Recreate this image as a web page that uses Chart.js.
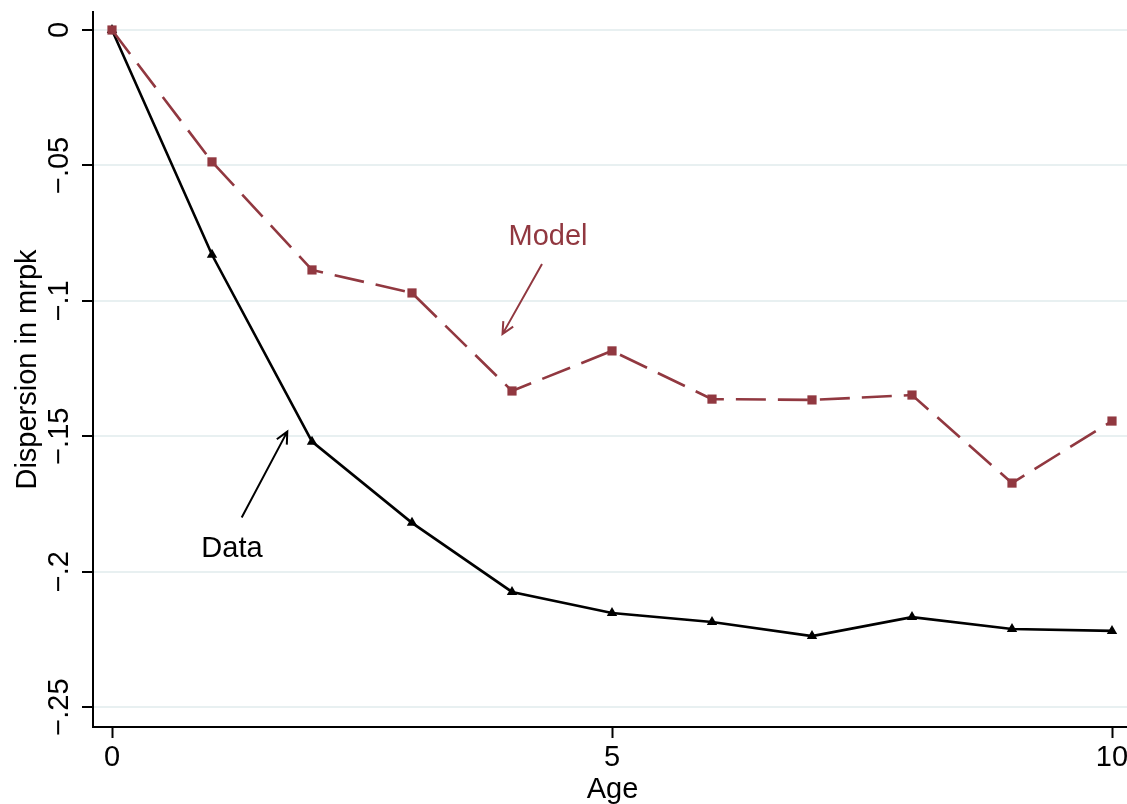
<!DOCTYPE html>
<html>
<head>
<meta charset="utf-8">
<title>Dispersion in mrpk by age</title>
<script src="https://cdn.jsdelivr.net/npm/chart.js@4.4.1/dist/chart.umd.min.js"></script>
<style>
  html, body { margin: 0; padding: 0; background: #fff; overflow: hidden; }
  #wrap { width: 1140px; height: 804px; }
</style>
</head>
<body>
<div id="wrap"><canvas id="dispersionChart" width="1140" height="804"></canvas></div>
<script>
// Dispersion in mrpk relative to age 0
const ages = [0, 1, 2, 3, 4, 5, 6, 7, 8, 9, 10];
const dataSeries = [0, -0.083, -0.152, -0.182, -0.2075, -0.2153, -0.2186, -0.2238, -0.2168, -0.2212, -0.2219];
const modelSeries = [0, -0.0487, -0.0886, -0.0971, -0.1333, -0.1185, -0.1363, -0.1366, -0.1348, -0.1673, -0.1444];

const xTicks = [0, 5, 10];
const yTicks = [0, -0.05, -0.1, -0.15, -0.2, -0.25];
const yTickLabels = ["0", "\u2212.05", "\u2212.1", "\u2212.15", "\u2212.2", "\u2212.25"];

// text labels with arrows, in data units: [textX, textY, tailX, tailY, headX, headY]
const modelNote = [4.36, -0.0794, 4.30, -0.0864, 3.905, -0.1123];
const dataNote = [1.20, -0.1946, 1.297, -0.180, 1.753, -0.1483];

const BLACK = "#000000";
const MAROON = "#913840";
const GRID = "#e8f0f1";
const FONT = '29px "Liberation Sans", Arial, Helvetica, sans-serif';

function drawArrow(ctx, x1, y1, x2, y2, color) {
  const ang = Math.atan2(y2 - y1, x2 - x1);
  const len = 13;
  ctx.save();
  ctx.strokeStyle = color;
  ctx.lineWidth = 2;
  ctx.beginPath();
  ctx.moveTo(x1, y1);
  ctx.lineTo(x2, y2);
  ctx.moveTo(x2 - len * Math.cos(ang - 0.45), y2 - len * Math.sin(ang - 0.45));
  ctx.lineTo(x2, y2);
  ctx.lineTo(x2 - len * Math.cos(ang + 0.45), y2 - len * Math.sin(ang + 0.45));
  ctx.stroke();
  ctx.restore();
}

// tick labels, axis titles and the two notes
const textPlugin = {
  id: "stataText",
  afterDraw(chart) {
    const ctx = chart.ctx;
    const xs = chart.scales.x;
    const ys = chart.scales.y;
    const area = chart.chartArea;
    ctx.save();
    ctx.font = FONT;
    ctx.fillStyle = BLACK;

    // x tick labels
    ctx.textAlign = "center";
    ctx.textBaseline = "alphabetic";
    xTicks.forEach(v => ctx.fillText(String(v), xs.getPixelForValue(v), area.bottom + 39));

    // x title
    ctx.fillText("Age", (area.left + area.right) / 2, area.bottom + 71);

    // y tick labels, rotated
    yTicks.forEach((v, i) => {
      ctx.save();
      ctx.translate(68, ys.getPixelForValue(v));
      ctx.rotate(-Math.PI / 2);
      ctx.fillText(yTickLabels[i], 0, 0);
      ctx.restore();
    });

    // y title
    ctx.save();
    ctx.translate(36, (area.top + area.bottom) / 2);
    ctx.rotate(-Math.PI / 2);
    ctx.fillText("Dispersion in mrpk", 0, 0);
    ctx.restore();

    // notes
    [[modelNote, "Model", MAROON], [dataNote, "Data", BLACK]].forEach(([n, label, color]) => {
      ctx.fillStyle = color;
      ctx.fillText(label, xs.getPixelForValue(n[0]), ys.getPixelForValue(n[1]));
      drawArrow(ctx,
        xs.getPixelForValue(n[2]), ys.getPixelForValue(n[3]),
        xs.getPixelForValue(n[4]), ys.getPixelForValue(n[5]), color);
    });
    ctx.restore();
  }
};

const ctx = document.getElementById("dispersionChart").getContext("2d");
new Chart(ctx, {
  type: "line",
  data: {
    datasets: [
      {
        label: "Model",
        data: ages.map((a, i) => ({ x: a, y: modelSeries[i] })),
        borderColor: MAROON,
        backgroundColor: MAROON,
        borderWidth: 2.6,
        borderDash: [30, 12],
        pointStyle: "rect",
        pointRadius: 6.5,
        pointBorderWidth: 0,
        tension: 0,
        order: 0
      },
      {
        label: "Data",
        data: ages.map((a, i) => ({ x: a, y: dataSeries[i] })),
        borderColor: BLACK,
        backgroundColor: BLACK,
        borderWidth: 2.6,
        pointStyle: "triangle",
        pointRadius: 6,
        pointBorderWidth: 0,
        tension: 0,
        order: 1
      }
    ]
  },
  options: {
    responsive: false,
    animation: false,
    devicePixelRatio: 1,
    layout: { padding: { top: 12, right: 8, left: 0, bottom: 0 } },
    plugins: {
      legend: { display: false },
      tooltip: { enabled: false }
    },
    scales: {
      x: {
        type: "linear",
        min: -0.19,
        max: 10.2,
        afterBuildTicks: s => { s.ticks = xTicks.map(v => ({ value: v })); },
        afterFit: s => { s.height = 77; },
        ticks: { display: false },
        grid: {
          drawOnChartArea: false,
          drawTicks: true,
          tickLength: 11,
          tickColor: BLACK,
          tickWidth: 2
        },
        border: { color: BLACK, width: 2 }
      },
      y: {
        type: "linear",
        min: -0.25738,
        max: 0.00665,
        afterBuildTicks: s => { s.ticks = yTicks.map(v => ({ value: v })); },
        afterFit: s => { s.width = 93; },
        ticks: { display: false },
        grid: {
          color: GRID,
          lineWidth: 2,
          drawTicks: true,
          tickLength: 11,
          tickColor: BLACK,
          tickWidth: 2
        },
        border: { color: BLACK, width: 2 }
      }
    }
  },
  plugins: [textPlugin]
});
</script>
</body>
</html>
